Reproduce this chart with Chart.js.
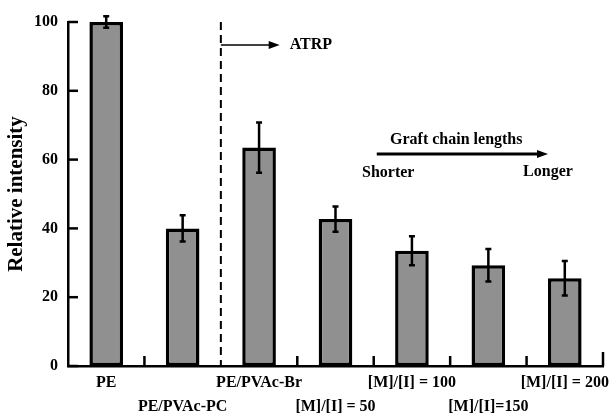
<!DOCTYPE html>
<html>
<head>
<meta charset="utf-8">
<script src="https://cdn.jsdelivr.net/npm/chart.js@4/dist/chart.umd.min.js"></script>
<style>
  body { margin: 0; background: #fff; }
  #wrap { width: 614px; height: 416px; }
</style>
</head>
<body>
<div id="wrap"><canvas id="chart"></canvas></div>
<script>
// samples, bottom labels alternate between two rows
const categories = ['PE', 'PE/PVAc-PC', 'PE/PVAc-Br', '[M]/[I] = 50', '[M]/[I] = 100', '[M]/[I]=150', '[M]/[I] = 200'];
const labelRow = [0, 1, 0, 1, 0, 1, 0];
const intensity = [100, 40, 63.5, 42.7, 33.5, 29.3, 25.5];
const errors = [1.7, 3.8, 7.3, 3.7, 4.2, 4.7, 5.0];
const yTicks = [0, 20, 40, 60, 80, 100];

const serif = "'Liberation Serif', 'Times New Roman', serif";

const labels = categories.map((c, i) => labelRow[i] === 0 ? [c, ''] : ['', c]);

function arrow(ctx, x1, y, x2) {
    ctx.beginPath();
    ctx.moveTo(x1, y);
    ctx.lineTo(x2 - 9, y);
    ctx.stroke();
    ctx.beginPath();
    ctx.moveTo(x2, y);
    ctx.lineTo(x2 - 11, y - 4);
    ctx.lineTo(x2 - 11, y + 4);
    ctx.closePath();
    ctx.fill();
}

///////////////////////////////// extras: error bars, inner ticks, notes /////////////////////////////////

const extras = {
    id: 'extras',
    afterDatasetsDraw(chart) {
        const ctx = chart.ctx;
        const x = chart.scales.x, y = chart.scales.y;
        ctx.save();
        ctx.strokeStyle = '#000';
        ctx.fillStyle = '#000';
        ctx.lineWidth = 2.5;

        // error bars
        intensity.forEach((v, i) => {
            const px = x.getPixelForValue(i);
            const top = y.getPixelForValue(v + errors[i]);
            const bot = y.getPixelForValue(v - errors[i]);
            ctx.beginPath();
            ctx.moveTo(px, top); ctx.lineTo(px, bot);
            ctx.moveTo(px - 3, top); ctx.lineTo(px + 3, top);
            ctx.moveTo(px - 3, bot); ctx.lineTo(px + 3, bot);
            ctx.stroke();
        });

        // y ticks pointing in
        const left = chart.chartArea.left;
        yTicks.forEach(t => {
            const py = y.getPixelForValue(t);
            ctx.beginPath();
            ctx.moveTo(left, py); ctx.lineTo(left + 10, py);
            ctx.stroke();
        });

        // x ticks between bars, pointing up
        const base = y.getPixelForValue(0);
        for (let i = 0; i < categories.length; i++) {
            if (i === 1) continue; // dashed line sits here
            const px = x.getPixelForValue(i + 0.5);
            ctx.beginPath();
            ctx.moveTo(px, base); ctx.lineTo(px, base - (i === categories.length - 1 ? 14 : 10));
            ctx.stroke();
        }

        // dashed separator
        const sep = x.getPixelForValue(1.5);
        ctx.lineWidth = 2;
        ctx.setLineDash([8, 5]);
        ctx.beginPath();
        ctx.moveTo(sep, y.getPixelForValue(100));
        ctx.lineTo(sep, base);
        ctx.stroke();
        ctx.setLineDash([]);

        // ATRP arrow
        ctx.lineWidth = 1.5;
        const ay = y.getPixelForValue(93.3);
        arrow(ctx, sep, ay, x.getPixelForValue(2.27));
        ctx.font = 'bold 16px ' + serif;
        ctx.textBaseline = 'middle';
        ctx.textAlign = 'left';
        ctx.fillText('ATRP', x.getPixelForValue(2.4), ay);

        // graft chain length arrow
        ctx.lineWidth = 3;
        arrow(ctx, x.getPixelForValue(3.54), y.getPixelForValue(61.6), x.getPixelForValue(5.78));
        ctx.textAlign = 'center';
        ctx.fillText('Graft chain lengths', x.getPixelForValue(4.58), y.getPixelForValue(65.8));
        ctx.fillText('Shorter', x.getPixelForValue(3.69), y.getPixelForValue(56.1));
        ctx.fillText('Longer', x.getPixelForValue(5.78), y.getPixelForValue(56.4));
        ctx.restore();
    }
};

new Chart(document.getElementById('chart'), {
    type: 'bar',
    data: {
        labels: labels,
        datasets: [{
            data: intensity,
            backgroundColor: '#909090',
            borderColor: '#000',
            borderWidth: 3.5,
            borderSkipped: false,
            barPercentage: 0.44,
            categoryPercentage: 1
        }]
    },
    options: {
        responsive: true,
        maintainAspectRatio: false,
        animation: false,
        layout: { padding: { top: 22, right: 11, left: 0, bottom: 0 } },
        plugins: {
            legend: { display: false },
            tooltip: { enabled: false }
        },
        scales: {
            x: {
                grid: { display: false, drawTicks: false },
                border: { color: '#000', width: 2.5 },
                ticks: {
                    color: '#000',
                    font: { family: serif, size: 16, weight: 'bold', lineHeight: 1.55 },
                    padding: 4,
                    maxRotation: 0,
                    autoSkip: false
                },
                afterFit: (s) => { s.height = 50; }
            },
            y: {
                min: 0,
                max: 100,
                grid: { display: false, drawTicks: false },
                border: { color: '#000', width: 2.5 },
                ticks: {
                    stepSize: 20,
                    color: '#000',
                    font: { family: serif, size: 16, weight: 'bold' },
                    padding: 10
                },
                title: {
                    display: true,
                    text: 'Relative intensity',
                    color: '#000',
                    font: { family: serif, size: 21, weight: 'bold' },
                    padding: { top: 4, bottom: 0 }
                },
                afterFit: (s) => { s.width = 68; }
            }
        }
    },
    plugins: [extras]
});
</script>
</body>
</html>
